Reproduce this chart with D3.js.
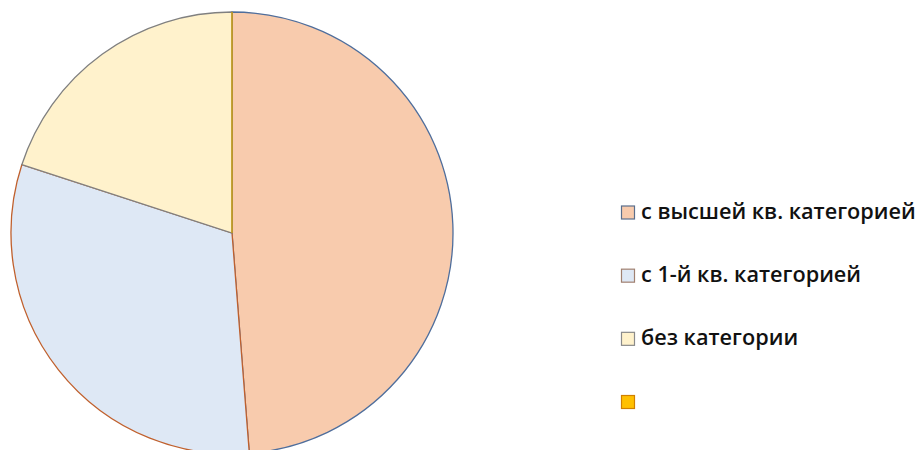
<!DOCTYPE html>
<html><head><meta charset="utf-8">
<script src="https://cdn.jsdelivr.net/npm/d3@7"></script>
<style>body{margin:0;background:#fff;}svg{display:block;}</style>
</head><body>
<svg id="c" width="922" height="450"></svg>
<script>
const categories = ["с высшей кв. категорией", "с 1-й кв. категорией", "без категории", ""];
const values = [39, 25, 16, 0];
const fills = ["#F8CBAD", "#DEE8F5", "#FFF2CC", "#FFC000"];
const strokes = ["#4F6E9C", "#C0602D", "#808080", "#D4A000"];
const legendStrokes = ["#5A6E8C", "#A08070", "#8A8A8A", "#D08000"];

const svg = d3.select("#c");
const cx = 232, cy = 233, r = 221;
const pie = d3.pie().sort(null).value(d => d)(values);
const arc = d3.arc().innerRadius(0).outerRadius(r);
const g = svg.append("g").attr("transform", `translate(${cx},${cy})`);
g.selectAll("path").data(pie).enter().append("path")
  .attr("d", arc)
  .attr("fill", (d, i) => fills[i])
  .attr("stroke", (d, i) => strokes[i])
  .attr("stroke-width", 1.3);

const ly = d3.scalePoint().domain(d3.range(categories.length)).range([212.5, 402]);
const lg = svg.append("g");
const items = lg.selectAll("g").data(categories).enter().append("g")
  .attr("transform", (d, i) => `translate(621,${ly(i)})`);
items.append("rect").attr("x", 0.5).attr("y", -6.5).attr("width", 13).attr("height", 13)
  .attr("fill", (d, i) => fills[i]).attr("stroke", (d, i) => legendStrokes[i]).attr("stroke-width", 1.2);
const texts = items.append("text").attr("x", 20).attr("y", 6.5)
  .attr("font-family", "Open Sans, sans-serif").attr("font-size", 21).attr("font-weight", 600).attr("fill", "#111")
  .text(d => d);
// fit first label to reference width
const w0 = texts.node().getComputedTextLength();
const scale = 275 / w0;
texts.attr("font-size", 21 * Math.min(Math.max(scale, 0.9), 1.1));
</script>
</body></html>
